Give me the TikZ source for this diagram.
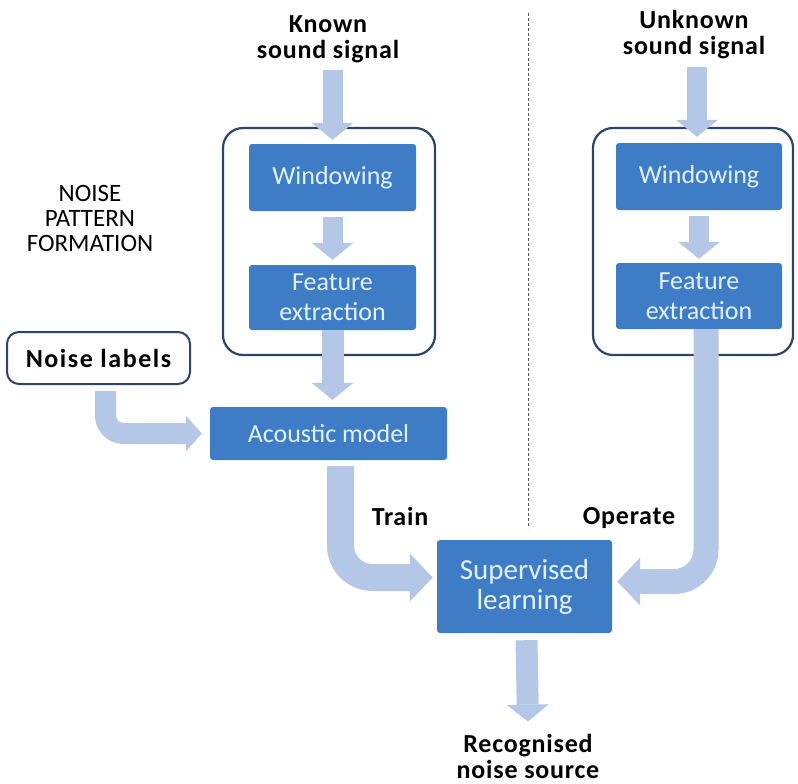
\documentclass[tikz,border=0pt]{standalone}
\usepackage{fontspec}
\setmainfont{Carlito}
\usetikzlibrary{arrows.meta,calc}
\definecolor{boxblue}{RGB}{62,125,198}
\definecolor{boxtext}{RGB}{226,241,255}
\definecolor{flowblue}{RGB}{180,199,231}
\definecolor{navy}{RGB}{44,68,102}
\definecolor{dashgray}{RGB}{85,85,85}
\begin{document}
\begin{tikzpicture}[x=1pt,y=-1pt,
  procbox/.style={fill=boxblue, rounded corners=3pt, text=boxtext, align=center,
    inner sep=0pt, font=\fontsize{26}{30}\selectfont},
  groupbox/.style={draw=navy, line width=2.2pt, rounded corners=20pt, inner sep=0pt},
  lbl/.style={align=center, inner sep=0pt, text=black,
    font=\fontsize{26}{26}\selectfont\bfseries\addfontfeature{LetterSpace=3}},
  flow/.style={draw=flowblue, line width=#1},
  headS/.style={-{Triangle[length=17pt,width=42pt,line width=0pt]}},
  headM/.style={-{Triangle[length=16pt,width=36pt,line width=0pt]}},
  headL/.style={-{Triangle[length=23pt,width=48pt,line width=0pt]}},
  sep/.style={draw=dashgray, line width=1pt, dash pattern=on 3pt off 2pt}]
\useasboundingbox (0,0) rectangle (798,784);

% group outlines
\node[groupbox, minimum width=212pt, minimum height=227pt] (grpL) at (329,241.5) {};
\node[groupbox, minimum width=200pt, minimum height=227pt] (grpR) at (693,241.5) {};

% process boxes
\node[procbox, minimum width=167pt, minimum height=67pt] (winL) at (332.5,177.5) {Windowing};
\node[procbox, minimum width=167pt, minimum height=65pt] (featL) at (332.5,297.5) {Feature\\extraction};
\node[procbox, minimum width=166pt, minimum height=67pt] (winR) at (699,176.5) {Windowing};
\node[procbox, minimum width=166pt, minimum height=66pt] (featR) at (699,296) {Feature\\extraction};
\node[procbox, minimum width=237pt, minimum height=53pt] (acoustic) at (328.5,433.5) {Acoustic model};
\node[procbox, minimum width=175pt, minimum height=93pt, font=\fontsize{29}{30}\selectfont] (superv) at (524.5,586.5) {Supervised\\learning};

% noise labels
\node[draw=navy, line width=2pt, rounded corners=12pt, minimum width=183pt, minimum height=52pt,
  inner sep=0pt, font=\fontsize{26}{26}\selectfont\bfseries\addfontfeature{LetterSpace=6}] (noise) at (98.5,358) {Noise labels};

% text labels
\node[lbl] (knownL) at (328,39) {Known\\sound signal};
\node[lbl] (unknownR) at (694,35) {Unknown\\sound signal};
\node[lbl] (recog) at (528,756) {Recognised\\noise source};
\node[lbl, anchor=base] (train) at (400,525) {Train};
\node[lbl, anchor=base] (operate) at (629,524) {Operate};
\node[align=center, inner sep=0pt, font=\fontsize{25}{25}\selectfont] (npf) at (90,218) {NOISE\\PATTERN\\FORMATION};

% separator
\coordinate (septop) at (528,13);
\coordinate (sepbot) at (528,528);
\draw[sep] (septop) -- (sepbot);

% flows
\draw[flow=20pt, headS] ($(winL.north |- knownL.south)+(0,7)$) -- ($(winL.north)+(0,-4)$);
\draw[flow=20pt, headS] ($(winL.south)+(0,6)$) -- ($(featL.north)+(0,-5)$);
\draw[flow=22pt, headS] (featL.south) -- ($(featL.south |- acoustic.north)+(0,-7)$);

\draw[flow=20pt, headS] ($(winR.north |- unknownR.south)+(-2,7)$) -- ($(winR.north)+(-2,-6)$);
\draw[flow=20pt, headS] ($(winR.south)+(0,6)$) -- ($(winR.north |- featR.north)+(0,-4)$);

\draw[flow=21pt, headM, rounded corners=18pt] ($(noise.south)+(7,6)$) |- ($(acoustic.west)+(-8,0)$);
\draw[flow=27pt, headL, rounded corners=32pt] ($(acoustic.south)+(12,6)$) |- ($(superv.west)+(-4,-9)$);
\draw[flow=25pt, headL, rounded corners=32pt] ($(featR.south)+(7,0)$) |- ($(superv.east)+(5,-5)$);
\draw[flow=22pt, headS] ($(superv.south)+(2,7)$) -- ($(recog.north)+(0,-12)$);
\end{tikzpicture}
\end{document}
